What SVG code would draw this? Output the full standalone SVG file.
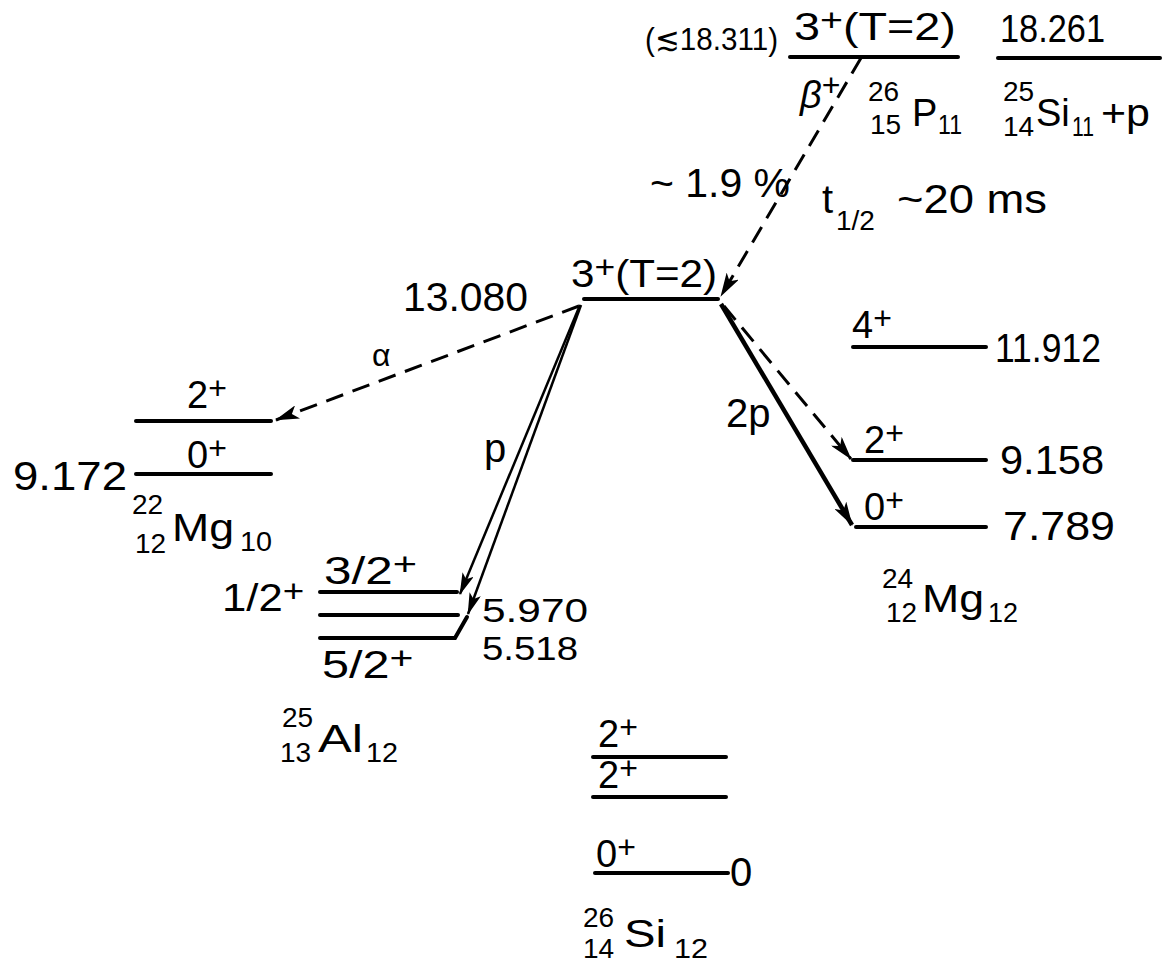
<svg xmlns="http://www.w3.org/2000/svg" width="1164" height="963" viewBox="0 0 1164 963">
<style>
text{font-family:"Liberation Sans",Arial,sans-serif;fill:#000}
.b{font-size:40px}
.m{font-size:38px}
.p{font-size:32px}
.s{font-size:28px}
.lv{stroke:#000;stroke-width:4;stroke-linecap:round;fill:none}
.dash{stroke:#000;stroke-width:3;fill:none;stroke-dasharray:18 10}
.thin{stroke:#000;stroke-width:2.5;fill:none}
.thick{stroke:#000;stroke-width:4.5;fill:none}
</style>
<defs>
<marker id="ah" viewBox="0 0 24 14" refX="23" refY="7" markerWidth="24" markerHeight="14" orient="auto" markerUnits="userSpaceOnUse">
<path d="M0,0 L24,7 L0,14 L6,7 z" fill="#000"/>
</marker>
<marker id="ahs" viewBox="0 0 22 12" refX="21" refY="6" markerWidth="22" markerHeight="12" orient="auto" markerUnits="userSpaceOnUse">
<path d="M0,0 L22,6 L0,12 L5,6 z" fill="#000"/>
</marker>
</defs>
<rect width="1164" height="963" fill="#fff"/>

<g id="p26">
<text x="645" y="50" style="font-size:32px" textLength="133" lengthAdjust="spacingAndGlyphs">(≲18.311)</text>
<text class="m" transform="translate(794,40) scale(1.23,1)">3<tspan class="p" dy="-9">+</tspan><tspan dy="9">(T=2)</tspan></text>
<line class="lv" x1="790" y1="57" x2="958" y2="57"/>
<text class="m" x="800" y="108"><tspan font-style="italic">β</tspan><tspan class="p" dy="-12">+</tspan></text>
<text class="s" x="868" y="101">26</text>
<text class="s" x="870" y="134">15</text>
<text class="m" x="912" y="126">P</text>
<text class="s" x="938" y="134" textLength="24" lengthAdjust="spacingAndGlyphs">11</text>
</g>

<g id="si25p">
<text class="m" x="1000" y="42" textLength="105" lengthAdjust="spacingAndGlyphs">18.261</text>
<line class="lv" x1="998" y1="58" x2="1160" y2="58"/>
<text class="s" x="1003" y="101">25</text>
<text class="s" x="1003" y="136">14</text>
<text class="m" x="1036" y="126">Si</text>
<text class="s" x="1072" y="136" textLength="22" lengthAdjust="spacingAndGlyphs">11</text>
<text class="m" x="1101" y="126" textLength="49" lengthAdjust="spacingAndGlyphs">+p</text>
</g>

<g id="decay-labels">
<text class="b" x="650" y="197" textLength="140" lengthAdjust="spacingAndGlyphs">~ 1.9 %</text>
<text class="b" x="822" y="213">t</text>
<text class="s" x="836" y="230">1/2</text>
<text class="b" x="897" y="213" textLength="150" lengthAdjust="spacingAndGlyphs">~20 ms</text>
</g>

<g id="si26-t2">
<text class="m" transform="translate(571,287) scale(1.11,1)">3<tspan class="p" dy="-9">+</tspan><tspan dy="9">(T=2)</tspan></text>
<line class="lv" x1="584" y1="299" x2="718" y2="299"/>
<text class="b" x="403" y="311" textLength="125" lengthAdjust="spacingAndGlyphs">13.080</text>
</g>

<g id="mg22">
<text class="m" x="187" y="408">2<tspan class="p" dy="-9">+</tspan></text>
<line class="lv" x1="136" y1="421" x2="271" y2="421"/>
<text class="m" x="187" y="468">0<tspan class="p" dy="-9">+</tspan></text>
<line class="lv" x1="136" y1="474" x2="271" y2="474"/>
<text class="b" x="13" y="490" textLength="114" lengthAdjust="spacingAndGlyphs">9.172</text>
<text class="s" x="132" y="514">22</text>
<text class="s" x="135" y="553">12</text>
<text class="m" x="172" y="541" textLength="62" lengthAdjust="spacingAndGlyphs">Mg</text>
<text class="s" x="240" y="551" textLength="32" lengthAdjust="spacingAndGlyphs">10</text>
</g>

<g id="al25">
<text class="m" transform="translate(324,584) scale(1.3,1)">3/2<tspan class="p" dy="-9">+</tspan></text>
<line class="lv" x1="320" y1="592" x2="457" y2="592"/>
<text class="m" transform="translate(222,611) scale(1.15,1)">1/2<tspan class="p" dy="-9">+</tspan></text>
<line class="lv" x1="320" y1="615" x2="458" y2="615"/>
<path class="lv" d="M320,638 L455,638 L467,617"/>
<text class="m" transform="translate(322,678) scale(1.28,1)">5/2<tspan class="p" dy="-9">+</tspan></text>
<text class="m" x="482" y="622" style="font-size:34px" textLength="106" lengthAdjust="spacingAndGlyphs">5.970</text>
<text class="m" x="482" y="660" style="font-size:34px" textLength="96" lengthAdjust="spacingAndGlyphs">5.518</text>
<text class="s" x="282" y="727">25</text>
<text class="s" x="280" y="762">13</text>
<text class="m" x="318" y="752" textLength="45" lengthAdjust="spacingAndGlyphs">Al</text>
<text class="s" x="366" y="762" textLength="32" lengthAdjust="spacingAndGlyphs">12</text>
</g>

<g id="mg24">
<text class="m" x="852" y="338">4<tspan class="p" dy="-9">+</tspan></text>
<line class="lv" x1="853" y1="347" x2="986" y2="347"/>
<text class="b" x="995" y="362" textLength="106" lengthAdjust="spacingAndGlyphs">11.912</text>
<text class="m" x="864" y="453">2<tspan class="p" dy="-9">+</tspan></text>
<line class="lv" x1="853" y1="460" x2="986" y2="460"/>
<text class="b" x="1000" y="474" textLength="104" lengthAdjust="spacingAndGlyphs">9.158</text>
<text class="m" x="864" y="520">0<tspan class="p" dy="-9">+</tspan></text>
<line class="lv" x1="856" y1="527" x2="986" y2="527"/>
<text class="b" x="1003" y="540" textLength="112" lengthAdjust="spacingAndGlyphs">7.789</text>
<text class="s" x="882" y="588">24</text>
<text class="s" x="886" y="622">12</text>
<text class="m" x="922" y="612" textLength="62" lengthAdjust="spacingAndGlyphs">Mg</text>
<text class="s" x="988" y="622" textLength="30" lengthAdjust="spacingAndGlyphs">12</text>
</g>

<g id="si26">
<text class="m" x="598" y="747">2<tspan class="p" dy="-9">+</tspan></text>
<line class="lv" x1="593" y1="757" x2="726" y2="757"/>
<text class="m" x="598" y="788">2<tspan class="p" dy="-9">+</tspan></text>
<line class="lv" x1="593" y1="797" x2="726" y2="797"/>
<text class="m" x="596" y="867">0<tspan class="p" dy="-9">+</tspan></text>
<line class="lv" x1="595" y1="873" x2="728" y2="873"/>
<text class="b" x="730" y="886">0</text>
<text class="s" x="583" y="927">26</text>
<text class="s" x="583" y="958">14</text>
<text class="m" x="624" y="947" textLength="42" lengthAdjust="spacingAndGlyphs">Si</text>
<text class="s" x="674" y="958" textLength="34" lengthAdjust="spacingAndGlyphs">12</text>
</g>

<g id="connectors">
<line class="dash" x1="861" y1="58" x2="721" y2="296" marker-end="url(#ah)"/>
<line class="dash" x1="579" y1="306" x2="276" y2="420" marker-end="url(#ah)"/>
<text x="372" y="366" style="font-size:32px">α</text>
<line class="thin" x1="580" y1="305" x2="460" y2="594" marker-end="url(#ahs)"/>
<line class="thin" x1="581" y1="305" x2="468" y2="614" marker-end="url(#ahs)"/>
<text class="b" x="484" y="462">p</text>
<line class="thick" x1="721" y1="304" x2="852" y2="525" marker-end="url(#ah)"/>
<line class="dash" x1="724" y1="306" x2="851" y2="459" marker-end="url(#ah)"/>
<text class="b" x="726" y="427">2p</text>
</g>
</svg>
